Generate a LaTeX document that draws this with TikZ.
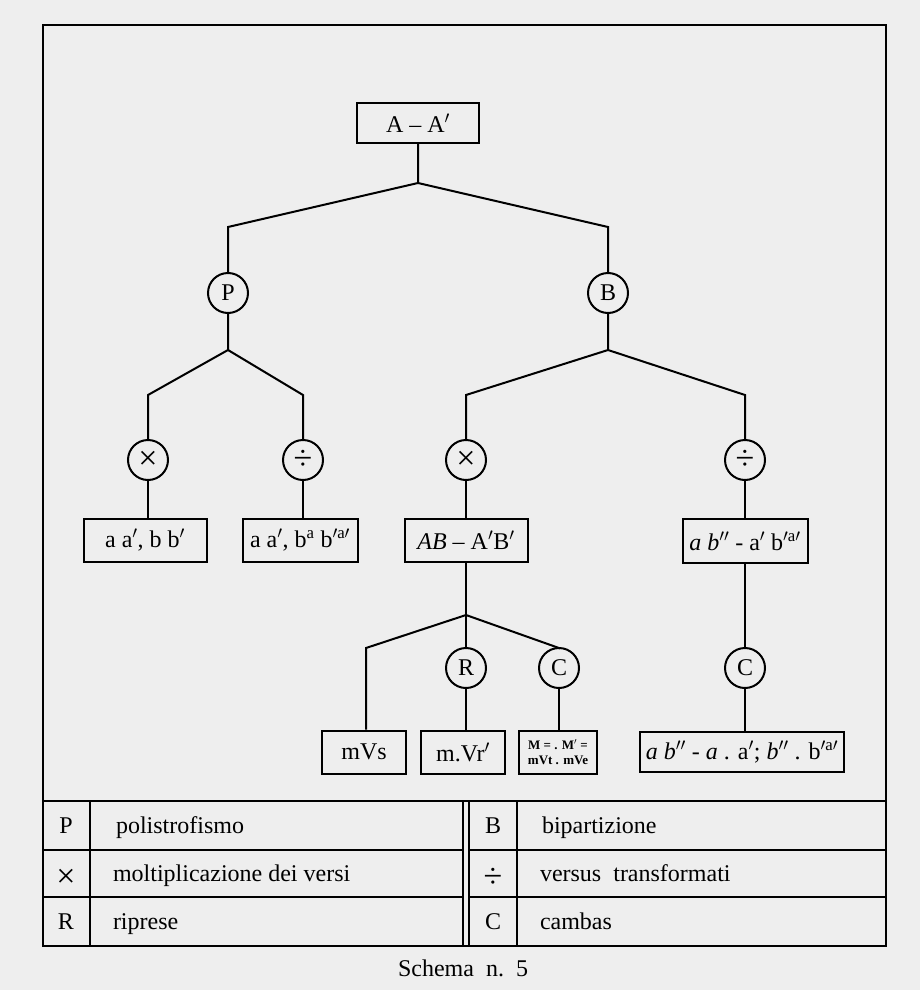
\documentclass[tikz,border=0pt]{standalone}
\usepackage{fontspec}
\setmainfont{Liberation Serif}
\definecolor{bg}{RGB}{238,238,238}
\newcommand{\mytimes}{{\fontsize{34}{36}\selectfont\char"00D7}}
\newcommand{\mydiv}{{\fontsize{34}{36}\selectfont\char"00F7}}
\begin{document}
\begin{tikzpicture}[x=1pt,y=-1pt, line width=2pt,
  box/.style={draw, rectangle, inner sep=0pt, minimum height=43pt, font=\fontsize{24}{28}\selectfont},
  circ/.style={draw, circle, minimum size=40pt, inner sep=0pt, font=\fontsize{24}{28}\selectfont},
  sym/.style={inner sep=0pt, anchor=base, font=\fontsize{24}{28}\selectfont},
  lab/.style={inner sep=0pt, anchor=base west, font=\fontsize{24}{28}\selectfont}]
\fill[bg] (0,0) rectangle (920,990);
\useasboundingbox (0,0) rectangle (920,990);
% frame and legend table
\draw (43,25) rectangle (886,946);
\draw (43,801) -- (886,801);
\draw (43,850) -- (463,850) (43,897) -- (463,897);
\draw (469,850) -- (886,850) (469,897) -- (886,897);
\draw (463,801) -- (463,946) (469,801) -- (469,946);
\draw (90,801) -- (90,946) (517,801) -- (517,946);
\node[sym] (kP) at (66,833) {P};
\node[inner sep=0pt] (kX) at (66,878) {\mytimes};
\node[sym] (kR) at (66,929) {R};
\node[sym] (kB) at (493,833) {B};
\node[inner sep=0pt] (kD) at (493,878) {\mydiv};
\node[sym] (kC) at (493,929) {C};
\node[lab] (tP) at (115,833) {polistrofismo};
\node[lab] (tX) at (112,881) {moltiplicazione\ dei\ versi};
\node[lab] (tR) at (112,929) {riprese};
\node[lab] (tB) at (541,833) {bipartizione};
\node[lab] (tD) at (539,881) {versus\ \ transformati};
\node[lab] (tC) at (539,929) {cambas};
\node[sym] (cap) at (463,976) {Schema\ \ n.\ \ 5};
% tree
\node[box, minimum width=122pt, minimum height=40pt] (top) at (418,123) {A -- A$'$};
\coordinate (j0) at (418,183);
\coordinate (jl) at (228,227);
\coordinate (jr) at (608,227);
\node[circ] (P) at (228,293) {P};
\node[circ] (B) at (608,293) {B};
\draw (top) -- (j0) -- (jl) -- (P);
\draw (j0) -- (jr) -- (B);
% P branch
\coordinate (j1) at (228,350);
\coordinate (j1l) at (148,395);
\coordinate (j1r) at (303,395);
\node[circ] (X1) at (148,460) {\mytimes};
\node[circ] (D1) at (303,460) {\mydiv};
\draw (P) -- (j1) -- (j1l) -- (X1);
\draw (j1) -- (j1r) -- (D1);
\node[box, minimum width=123pt] (b1) at (145,540) {a a$'$, b b$'$};
\node[box, minimum width=115pt] (b2) at (300,540) {a a$'$, b$^{\mathrm{a}}$ b$^{\prime\mathrm{a}\prime}$};
\draw (X1) -- (X1 |- b1.north);
\draw (D1) -- (D1 |- b2.north);
% B branch
\coordinate (j2) at (608,350);
\coordinate (j2l) at (466,395);
\coordinate (j2r) at (745,395);
\node[circ] (X2) at (466,460) {\mytimes};
\node[circ] (D2) at (745,460) {\mydiv};
\draw (B) -- (j2) -- (j2l) -- (X2);
\draw (j2) -- (j2r) -- (D2);
\node[box, minimum width=123pt] (AB) at (466,540) {\textit{AB} -- A$'$B$'$};
\node[box, minimum width=125pt, minimum height=44pt] (ab) at (745,541) {\textit{a b}$''$ - a$'$ b$^{\prime\mathrm{a}\prime}$};
\draw (X2) -- (AB);
\draw (D2) -- (ab);
% AB subtree
\coordinate (j3) at (466,615);
\coordinate (j3l) at (366,648);
\coordinate (j3r) at (559,648);
\node[circ] (R) at (466,668) {R};
\node[circ] (C1) at (559,668) {C};
\node[box, minimum width=84pt] (mVs) at (364,752) {mVs};
\node[box, minimum width=84pt] (mVr) at (463,752) {m.Vr$'$};
\node[box, minimum width=78pt, align=center, font=\fontsize{13}{15}\selectfont\bfseries] (M) at (558,752) {M = . M$'$ =\\mVt . mVe};
\draw (AB) -- (j3) -- (R);
\draw (j3) -- (j3l) -- (j3l |- mVs.north);
\draw (j3) -- (j3r) -- (C1);
\draw (R) -- (R |- mVr.north);
\draw (C1) -- (C1 |- M.north);
% ab subtree
\node[circ] (C2) at (745,668) {C};
\node[box, minimum width=204pt, minimum height=40pt] (last) at (742,752) {\textit{a b}$''$ - \textit{a} . a$'$; \textit{b}$''$ . b$^{\prime\mathrm{a}\prime}$};
\draw (ab) -- (C2);
\draw (C2) -- (C2 |- last.north);
\end{tikzpicture}
\end{document}
